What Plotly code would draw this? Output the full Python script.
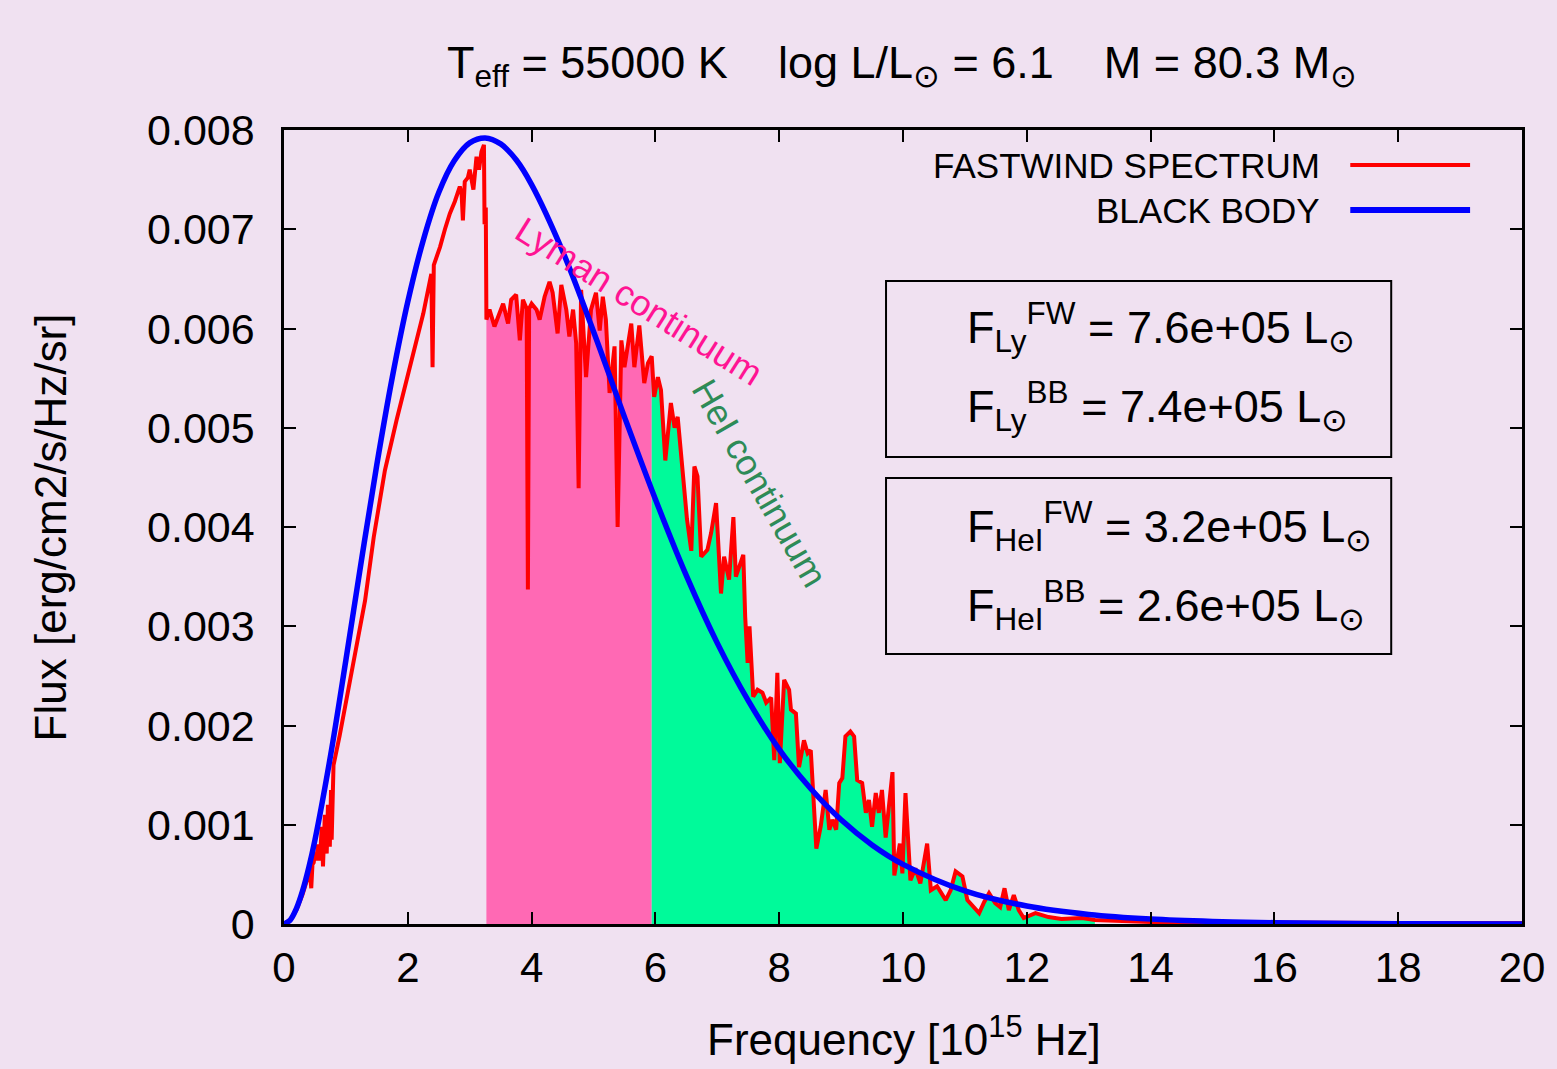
import plotly.graph_objects as go

# blackbody curve
bb_x = [0, 0.1, 0.2, 0.3, 0.4, 0.5, 0.75, 1.0, 1.25, 1.5, 1.75, 2.0, 2.25, 2.5, 2.75, 3.0, 3.25,
        3.5, 3.75, 4.0, 4.5, 5.0, 5.5, 6.0, 6.5, 7.0, 7.5, 8.0, 8.5, 9.0, 9.5, 10, 11, 12, 13,
        14, 15, 16, 18, 20]
bb_y = [0, 0.00004, 0.000155, 0.000334, 0.000567, 0.000846, 0.00169, 0.00266, 0.00366, 0.00463,
        0.00551, 0.00627, 0.00689, 0.00737, 0.00769, 0.00787, 0.00792, 0.00786, 0.00770, 0.00745,
        0.00678, 0.00597, 0.00511, 0.00428, 0.00351, 0.00283, 0.00225, 0.00176, 0.00137, 0.00105,
        0.000797, 0.000601, 0.000334, 0.000181, 0.0000965, 0.0000503, 0.0000259, 0.0000131,
        0.0000033, 0.0000008]

# FASTWIND spectrum
fw_x = [0.00, 0.10, 0.20, 0.30, 0.38, 0.42, 0.44, 0.46, 0.48, 0.50, 0.52, 0.55, 0.58, 0.61, 0.63,
        0.66, 0.69, 0.71, 0.74, 0.76, 0.77, 0.80, 0.90, 1.01, 1.17, 1.31, 1.45, 1.63, 1.82, 2.085,
        2.25, 2.38, 2.40, 2.42, 2.52, 2.60, 2.68, 2.76, 2.84, 2.87, 2.89, 2.92, 2.97, 3.00, 3.06,
        3.11, 3.15, 3.19, 3.23, 3.24, 3.26, 3.27,
        3.32, 3.40, 3.48, 3.54, 3.62, 3.67, 3.75, 3.81, 3.86, 3.92, 3.94, 3.96, 4.00, 4.08, 4.13,
        4.21, 4.29, 4.34, 4.42, 4.48, 4.56, 4.61, 4.67, 4.72, 4.76, 4.80, 4.88, 4.96, 5.04, 5.10,
        5.15, 5.20, 5.26, 5.34, 5.39, 5.45, 5.50, 5.61, 5.66, 5.74, 5.82, 5.88, 5.94,
        5.98, 6.04, 6.09, 6.16, 6.25, 6.31, 6.36, 6.51, 6.58, 6.63, 6.68, 6.74, 6.84, 6.90, 6.98,
        7.06, 7.11, 7.19, 7.26, 7.30, 7.35, 7.42, 7.45, 7.49, 7.52, 7.58, 7.65, 7.73, 7.79, 7.87,
        7.92, 7.97, 8.01, 8.08, 8.16, 8.19, 8.27, 8.32, 8.40, 8.46, 8.51, 8.60, 8.67, 8.75, 8.81,
        8.86, 8.92, 8.97, 9.02, 9.07, 9.15, 9.21, 9.26, 9.34, 9.40, 9.45, 9.50, 9.56, 9.61, 9.66,
        9.72, 9.77, 9.83, 9.86, 9.95, 9.99, 10.04, 10.12, 10.20, 10.28, 10.39, 10.45, 10.55, 10.69,
        10.77, 10.85, 10.96, 11.04, 11.15, 11.23, 11.31, 11.39, 11.49, 11.57, 11.64, 11.71, 11.79,
        11.87, 11.95, 12.14, 12.35, 12.56, 12.89, 13.1, 14, 16, 18, 20]
fw_y = [0.0, 0.00004, 0.00014, 0.00030, 0.00046, 0.00052, 0.00036, 0.00060, 0.00062, 0.00072,
        0.00064, 0.00080, 0.00064, 0.00098, 0.00058, 0.00110, 0.00071, 0.00120, 0.00078, 0.00135,
        0.00085, 0.00160, 0.00190, 0.00226, 0.00283, 0.00326, 0.00390, 0.00457, 0.00508, 0.00575,
        0.00615, 0.00655, 0.00561, 0.00664, 0.00682, 0.00700, 0.00716, 0.00728, 0.00743, 0.00735,
        0.00709, 0.00748, 0.00752, 0.00760, 0.00740, 0.00773, 0.00760, 0.00778, 0.00785, 0.00705,
        0.00722, 0.00609,
        0.00619, 0.00602, 0.00615, 0.00625, 0.00605, 0.00629, 0.00634, 0.00588, 0.00629, 0.00620,
        0.00337, 0.00620, 0.00625, 0.00619, 0.00609, 0.00632, 0.00647, 0.00636, 0.00595, 0.00644,
        0.00619, 0.00592, 0.00619, 0.00585, 0.00439, 0.00639, 0.00551, 0.00619, 0.00636, 0.00598,
        0.00632, 0.00609, 0.00535, 0.00582, 0.00400, 0.00588, 0.00561, 0.00605, 0.00561, 0.00603,
        0.00545, 0.00565, 0.00572,
        0.00531, 0.00551, 0.00538, 0.00467, 0.00525, 0.00500, 0.00511, 0.00408, 0.00376, 0.00461,
        0.00451, 0.00370, 0.00377, 0.00394, 0.00424, 0.00333, 0.00370, 0.00347, 0.00410, 0.00350,
        0.00360, 0.00372, 0.00310, 0.00263, 0.00300, 0.00229, 0.00236, 0.00233, 0.00223, 0.00228,
        0.00165, 0.00253, 0.00162, 0.00246, 0.00236, 0.00216, 0.00212, 0.00158, 0.00185, 0.00172,
        0.00175, 0.00076, 0.00098, 0.00135, 0.00095, 0.00105, 0.00095, 0.00142, 0.00147, 0.00189,
        0.00194, 0.00189, 0.00145, 0.00142, 0.00112, 0.00125, 0.00098, 0.00132, 0.00112, 0.00135,
        0.00087, 0.00118, 0.00153, 0.00049, 0.00081, 0.00051, 0.00132, 0.00044, 0.00056, 0.00041,
        0.00081, 0.00034, 0.00038, 0.00024, 0.00034, 0.00053, 0.00048, 0.00024, 0.00017, 0.00011,
        0.00022, 0.00031, 0.00021, 0.00017, 0.00036, 0.00014, 0.00029, 0.00014, 0.00006, 0.00011,
        0.00007, 0.00005, 0.00006, 0.00004, 0.00002, 0.00001, 0.00001, 0.00001]

ly_lo, ly_hi = 3.27, 5.94   # Lyman continuum shading
he_lo, he_hi = 5.94, 13.1   # HeI continuum shading

x_ticks = [0, 2, 4, 6, 8, 10, 12, 14, 16, 18, 20]
y_ticks = [0, 0.001, 0.002, 0.003, 0.004, 0.005, 0.006, 0.007, 0.008]
y_ticktext = ['0', '0.001', '0.002', '0.003', '0.004', '0.005', '0.006', '0.007', '0.008']

box_lines = [
    'F<sub>Ly</sub><sup>FW</sup> = 7.6e+05 L<sub>\u2299</sub>',
    'F<sub>Ly</sub><sup>BB</sup> = 7.4e+05 L<sub>\u2299</sub>',
    'F<sub>HeI</sub><sup>FW</sup> = 3.2e+05 L<sub>\u2299</sub>',
    'F<sub>HeI</sub><sup>BB</sup> = 2.6e+05 L<sub>\u2299</sub>',
]

#%%
W, H = 1557, 1069
L, R, T, B = 284, 1524, 130, 924
def px(x):  # pixel -> paper
    return (x - L) / (R - L)
def py(y):
    return (B - y) / (B - T)

BG = '#f0e1f1'
FONT = 'Liberation Sans, Arial, sans-serif'

fig = go.Figure()

ly = [(x, y) for x, y in zip(fw_x, fw_y) if ly_lo <= x <= ly_hi]
he = [(x, y) for x, y in zip(fw_x, fw_y) if he_lo <= x <= he_hi]
fig.add_trace(go.Scatter(x=[p[0] for p in ly], y=[p[1] for p in ly], fill='tozeroy',
                         fillcolor='#ff69b4', mode='lines', line=dict(width=0), showlegend=False))
fig.add_trace(go.Scatter(x=[p[0] for p in he], y=[p[1] for p in he], fill='tozeroy',
                         fillcolor='#00fa9a', mode='lines', line=dict(width=0), showlegend=False))
fig.add_trace(go.Scatter(x=fw_x, y=fw_y, mode='lines', line=dict(color='#ff0000', width=4),
                         name='FASTWIND SPECTRUM', showlegend=False))
fig.add_trace(go.Scatter(x=bb_x, y=bb_y, mode='lines', line=dict(color='#0000ff', width=5.5, shape='spline'),
                         name='BLACK BODY', showlegend=False))

ann = []
# title
ann.append(dict(text='T<sub>eff</sub> = 55000 K    log L/L<sub>\u2299</sub> = 6.1    M = 80.3 M<sub>\u2299</sub>',
                x=px(903), y=py(66), xref='paper', yref='paper', showarrow=False,
                font=dict(size=45, color='black'), xanchor='center', yanchor='middle'))
# axis titles
ann.append(dict(text='Frequency [10<sup>15</sup> Hz]', x=px(905), y=py(1036), xref='paper', yref='paper',
                showarrow=False, font=dict(size=44, color='black'), xanchor='center', yanchor='middle'))
ann.append(dict(text='Flux [erg/cm2/s/Hz/sr]', x=px(50), y=py(527), xref='paper', yref='paper',
                showarrow=False, textangle=-90, font=dict(size=44, color='black'),
                xanchor='center', yanchor='middle'))
# legend (text on the left, line sample on the right, as in gnuplot)
ann.append(dict(text='FASTWIND SPECTRUM', x=px(1324), y=py(165), xref='paper', yref='paper',
                showarrow=False, font=dict(size=35, color='black'), xanchor='right', yanchor='middle'))
ann.append(dict(text='BLACK BODY', x=px(1324), y=py(210), xref='paper', yref='paper',
                showarrow=False, font=dict(size=35, color='black'), xanchor='right', yanchor='middle'))
# continuum labels
ann.append(dict(text='Lyman continuum', x=px(640), y=py(301), xref='paper', yref='paper', showarrow=False,
                textangle=32, font=dict(size=36, color='#ff1493'), xanchor='center', yanchor='middle'))
ann.append(dict(text='HeI continuum', x=px(761), y=py(483), xref='paper', yref='paper', showarrow=False,
                textangle=60, font=dict(size=36, color='#2e8b57'), xanchor='center', yanchor='middle'))
# flux boxes
for txt, yc in zip(box_lines, [327, 406, 526, 605]):
    ann.append(dict(text=txt, x=px(966), y=py(yc), xref='paper', yref='paper', showarrow=False,
                    font=dict(size=45, color='black'), xanchor='left', yanchor='middle'))

shapes = [
    dict(type='line', x0=px(1352), x1=px(1472), y0=py(165), y1=py(165), xref='paper', yref='paper',
         line=dict(color='#ff0000', width=4)),
    dict(type='line', x0=px(1352), x1=px(1472), y0=py(210), y1=py(210), xref='paper', yref='paper',
         line=dict(color='#0000ff', width=6)),
    dict(type='rect', x0=px(887), x1=px(1393), y0=py(281), y1=py(457), xref='paper', yref='paper',
         line=dict(color='black', width=2)),
    dict(type='rect', x0=px(887), x1=px(1393), y0=py(478), y1=py(654), xref='paper', yref='paper',
         line=dict(color='black', width=2)),
]

fig.update_layout(
    width=W, height=H, paper_bgcolor=BG, plot_bgcolor=BG,
    margin=dict(l=L, r=W - R, t=T, b=H - B, pad=0),
    font=dict(family=FONT, color='black'),
    annotations=ann, shapes=shapes, showlegend=False,
)
fig.update_xaxes(range=[0, 20], tickvals=x_ticks, ticks='inside', ticklen=12, tickwidth=2,
                 tickcolor='black', showline=True, linecolor='black', linewidth=2.5, mirror='ticks',
                 showgrid=False, zeroline=False, tickfont=dict(size=42), ticklabelstandoff=5)
fig.update_yaxes(range=[0, 0.008], tickvals=y_ticks, ticktext=y_ticktext, ticks='inside', ticklen=12,
                 tickwidth=2, tickcolor='black', showline=True, linecolor='black', linewidth=2.5,
                 mirror='ticks', showgrid=False, zeroline=False, tickfont=dict(size=43),
                 ticklabelstandoff=18)

# drop the browser's default body margin so the figure fills the window; no modebar
fig.write_html("out.html", config={'displayModeBar': False},
               post_script="document.body.style.margin='0';")
